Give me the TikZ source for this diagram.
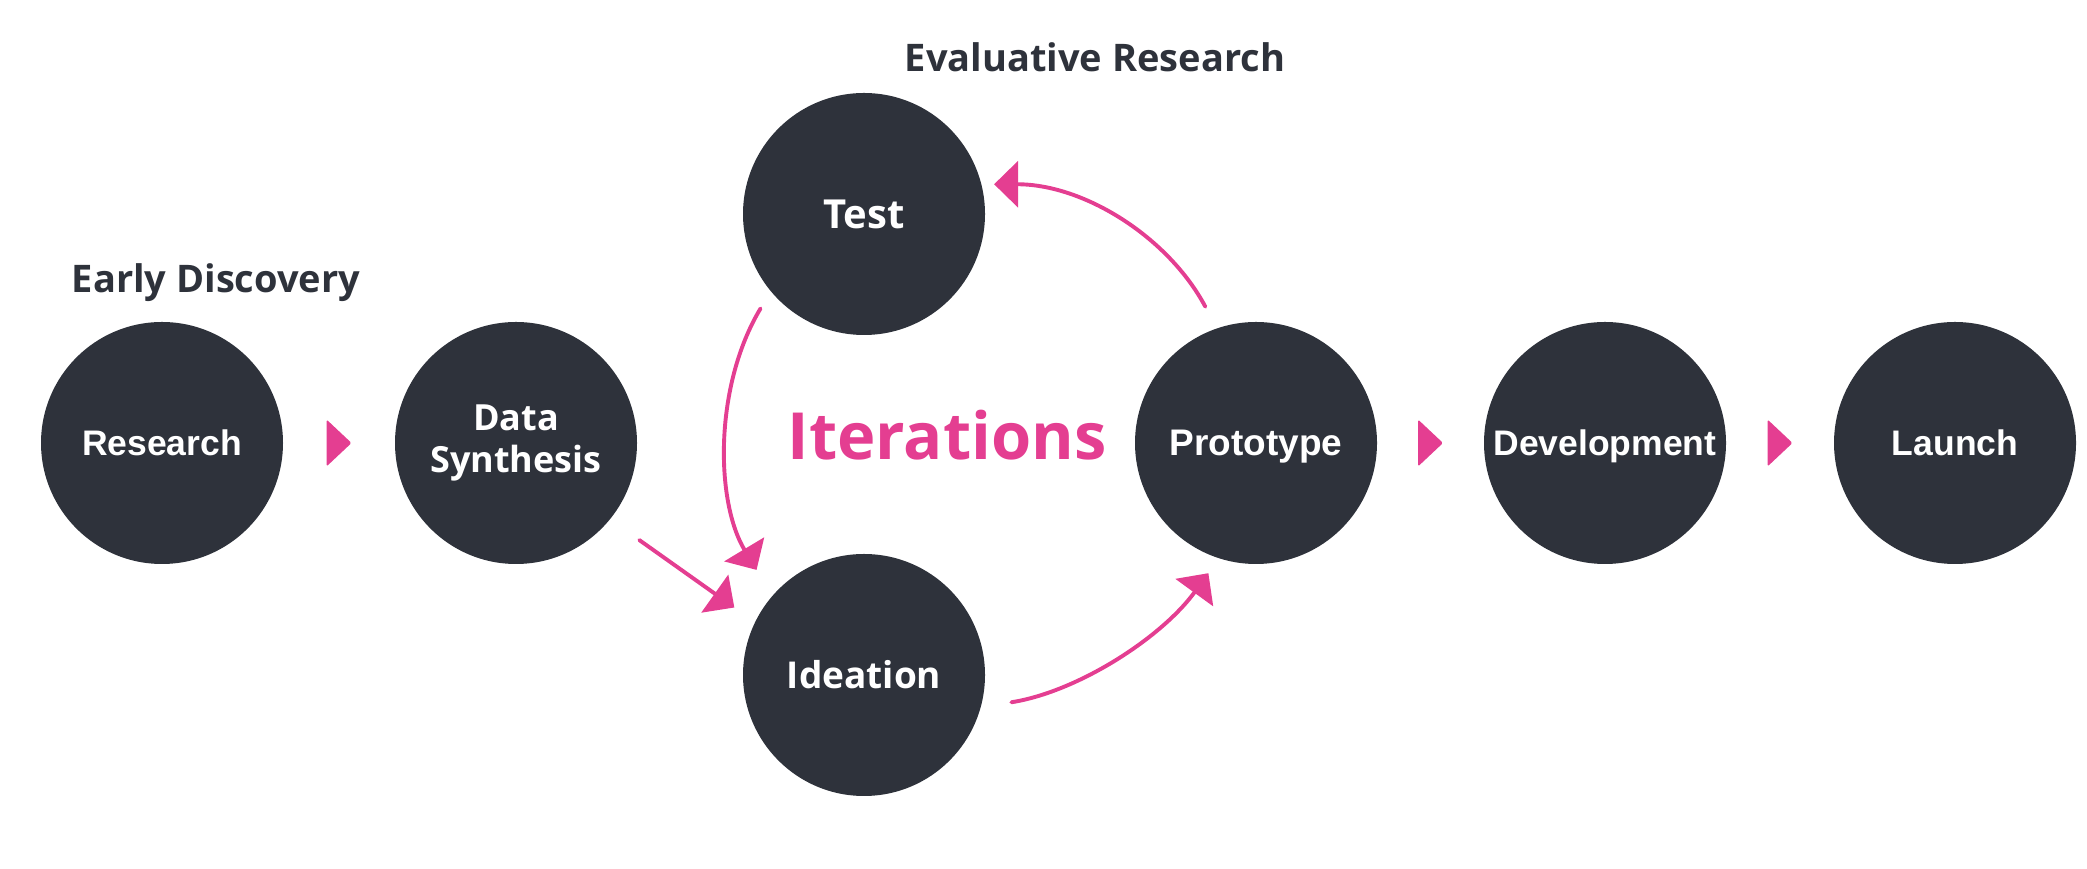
\documentclass[tikz,border=0pt]{standalone}
\usepackage{fontspec}
\setmainfont{Open Sans}
\newfontfamily\arialfont{Liberation Sans}
\usepackage{xcolor}
\usetikzlibrary{arrows.meta,positioning,calc}
\definecolor{darkslate}{RGB}{46,50,59}
\definecolor{loopPink}{RGB}{228,62,145}

\begin{document}
\begin{tikzpicture}[x=1pt, y=1pt, line width=3.9pt, line cap=round,
main node/.style={circle,fill=darkslate,minimum size=242pt,inner sep=0pt,text=white},
sans label/.style={font=\arialfont\bfseries\fontsize{35.5}{42}\selectfont,text height=25pt,text depth=0pt},
open label/.style={font=\bfseries\fontsize{37}{42}\selectfont,text height=26.5pt,text depth=0pt},
title/.style={font=\bfseries\fontsize{38}{42}\selectfont,text=darkslate,anchor=base},
flow/.style={color=loopPink,-{Triangle[width=46pt,length=24pt]}}]
\useasboundingbox (0,0) rectangle (2087,869);
\begin{scope}
\node[main node, sans label] (research) at (162,426) {Research};
\node[main node, font=\bfseries\fontsize{36}{42}\selectfont, align=center] (data) at (516,426) {Data\\Synthesis};
\node[main node, open label, font=\bfseries\fontsize{40}{42}\selectfont, text height=28.5pt] (test) at (864,655) {Test};
\node[main node, open label] (ideation) at (864,194) {Ideation};
\node[main node, sans label, font=\arialfont\bfseries\fontsize{37}{42}\selectfont] (prototype) at (1256,426) {Prototype};
\node[main node, sans label] (development) at (1605,426) {Development};
\node[main node, sans label] (launch) at (1955,426) {Launch};
\end{scope}
\begin{scope}
\node[title] (early) at (216,576) {Early Discovery};
\node[title] (evaluative) at (1095,797) {Evaluative Research};
\node[font=\bfseries\fontsize{65}{70}\selectfont, text=loopPink, anchor=base] (iterations) at (947,409) {Iterations};
\end{scope}
\begin{scope}
\foreach \p/\q in {research/data,prototype/development,development/launch}
  \fill[color=loopPink, rounded corners=1.5pt] ($(\p.east)!0.5!(\q.west)+(-12.5,23.5)$) -- ++(25,-23.5) -- ++(-25,-23.5) -- cycle;
\draw[flow, shorten <=34pt, shorten >=23.5pt] (data.321) -- (ideation.154);
\draw[flow, shorten <=18pt, shorten >=28.5pt] (test.220) to[out=239, in=121, looseness=0.92] (ideation.139);
\draw[flow, shorten <=29pt, shorten >=16.4pt] (ideation.345) to[out=9, in=234, looseness=0.89] (prototype.252);
\draw[flow, shorten <=22.7pt, shorten >=10.8pt] (prototype.109) to[out=118, in=0, looseness=0.95] (test.14);
\end{scope}
\end{tikzpicture}
\end{document}
